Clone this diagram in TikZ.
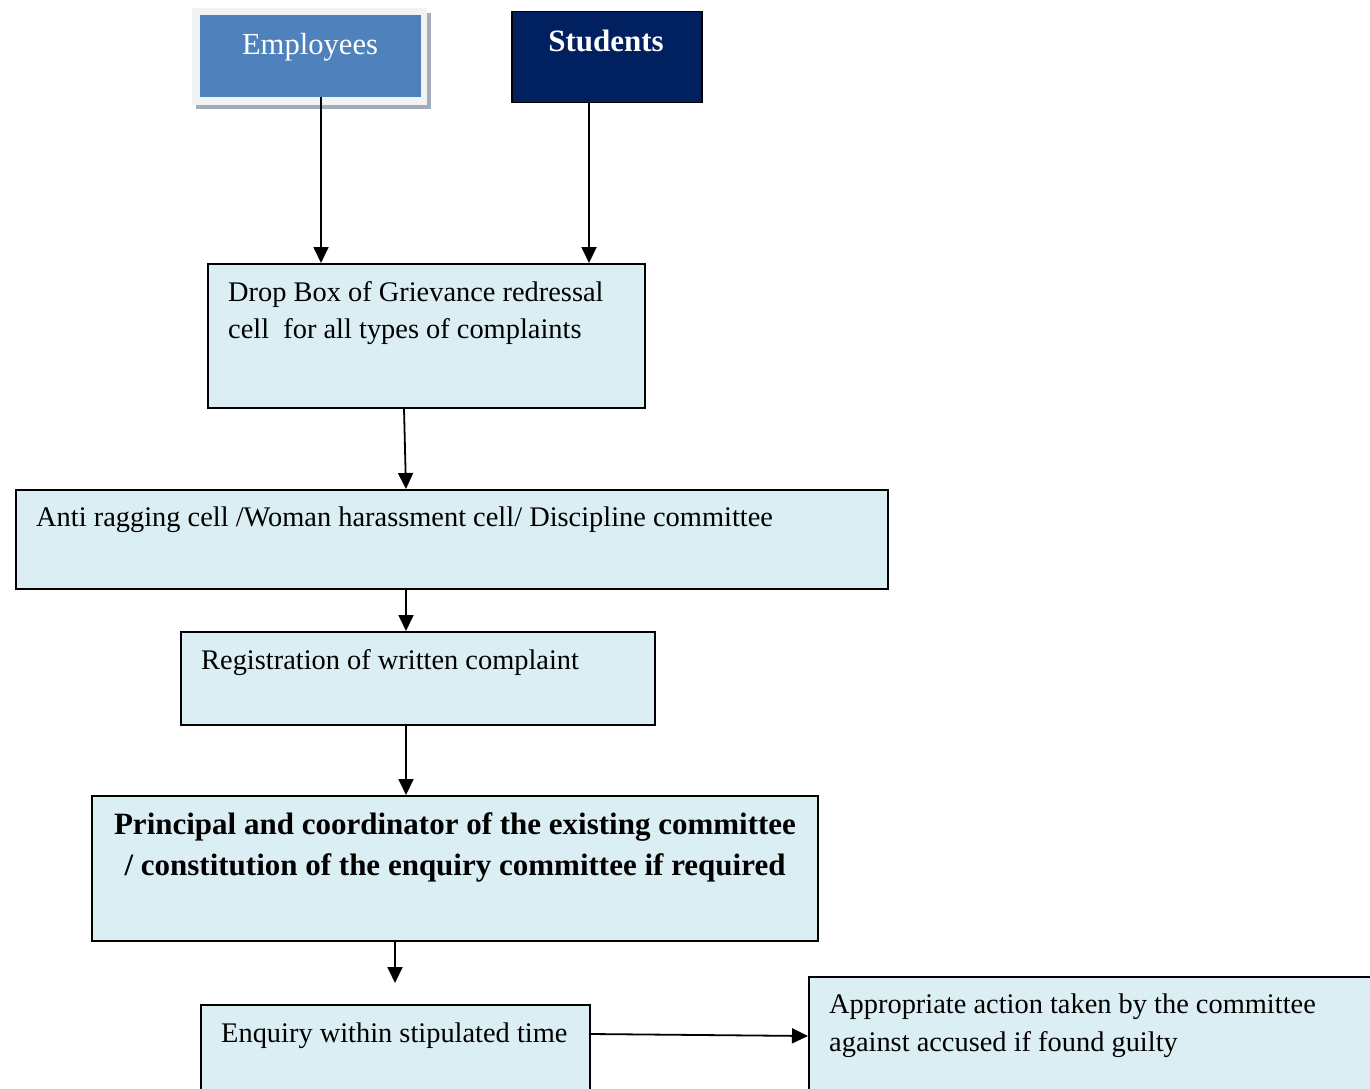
\documentclass[tikz,border=0pt]{standalone}
\usepackage{fontspec}
\setmainfont{Liberation Serif}
\usetikzlibrary{arrows.meta}
\definecolor{boxfill}{HTML}{DAEEF3}
\definecolor{empblue}{HTML}{4F81BD}
\definecolor{navyblue}{HTML}{002060}
\definecolor{framegray}{HTML}{F2F2F2}
\definecolor{shadowgray}{HTML}{A3ACBA}
\begin{document}
\begin{tikzpicture}[x=1pt,y=-1pt,
  box/.style={draw=black,line width=1.5pt,fill=boxfill,inner sep=0pt,anchor=north west},
  txt/.style={anchor=base west,inner sep=0pt,align=left,font=\fontsize{28.4}{37.5}\selectfont},
  arr/.style={line width=1.8pt,-{Triangle[length=16pt,width=15pt]}}]
\useasboundingbox (0,0) rectangle (1370,1089);
% Employees
\fill[shadowgray] (196,13) rectangle (431,109);
\fill[framegray] (192,8) rectangle (427,105);
\node[fill=empblue,inner sep=0pt,anchor=north west,minimum width=221pt,minimum height=82pt] (emp) at (200,15) {};
\node[anchor=base,inner sep=0pt,text=white,font=\fontsize{30.6}{36}\selectfont] (empt) at (310,55) {Employees};
% Students
\node[draw=black,line width=1.5pt,fill=navyblue,inner sep=0pt,anchor=north west,minimum width=190pt,minimum height=91pt] (stu) at (511,11) {};
\node[anchor=base,inner sep=0pt,text=white,font=\fontsize{31}{36}\selectfont\bfseries] (stut) at (606,52) {Students};
% Boxes
\node[box,minimum width=437pt,minimum height=144pt] (drop) at (207,263) {};
\node[txt] (dropt) at (228,338.5) {Drop Box of Grievance redressal\\cell\ \ for all types of complaints};
\node[box,minimum width=872pt,minimum height=99pt] (anti) at (15,489) {};
\node[txt] (antit) at (36,526) {Anti ragging cell /Woman harassment cell/ Discipline committee};
\node[box,minimum width=474pt,minimum height=93pt] (reg) at (180,631) {};
\node[txt] (regt) at (201,669) {Registration of written complaint};
\node[box,minimum width=726pt,minimum height=145pt] (prin) at (91,795) {};
\node[anchor=base,inner sep=0pt,align=center,font=\fontsize{31}{41}\selectfont\bfseries] (print) at (455,875) {Principal and coordinator of the existing committee\\/ constitution of the enquiry committee if required};
\node[box,minimum width=389pt,minimum height=130pt] (enq) at (200,1004) {};
\node[txt] (enqt) at (221,1042) {Enquiry within stipulated time};
\node[box,minimum width=620pt,minimum height=160pt] (act) at (808,976) {};
\node[txt] (actt) at (829,1051) {Appropriate action taken by the committee\\against accused if found guilty};
\coordinate (enqtip) at (395,983);
% Connectors
\draw[arr] ([xshift=121pt]emp.south west) -- ([xshift=114pt]drop.north west);
\draw[arr] ([xshift=78pt]stu.south west) -- ([xshift=382pt]drop.north west);
\draw[arr] ([xshift=197pt]drop.south west) -- ([xshift=391pt]anti.north west);
\draw[arr] ([xshift=391pt]anti.south west) -- ([xshift=226pt]reg.north west);
\draw[arr] ([xshift=226pt]reg.south west) -- ([xshift=315pt]prin.north west);
\draw[arr] ([xshift=304pt]prin.south west) -- (enqtip);
\draw[arr] ([yshift=-30pt]enq.north east) -- ([yshift=-60pt]act.north west);
\end{tikzpicture}
\end{document}
